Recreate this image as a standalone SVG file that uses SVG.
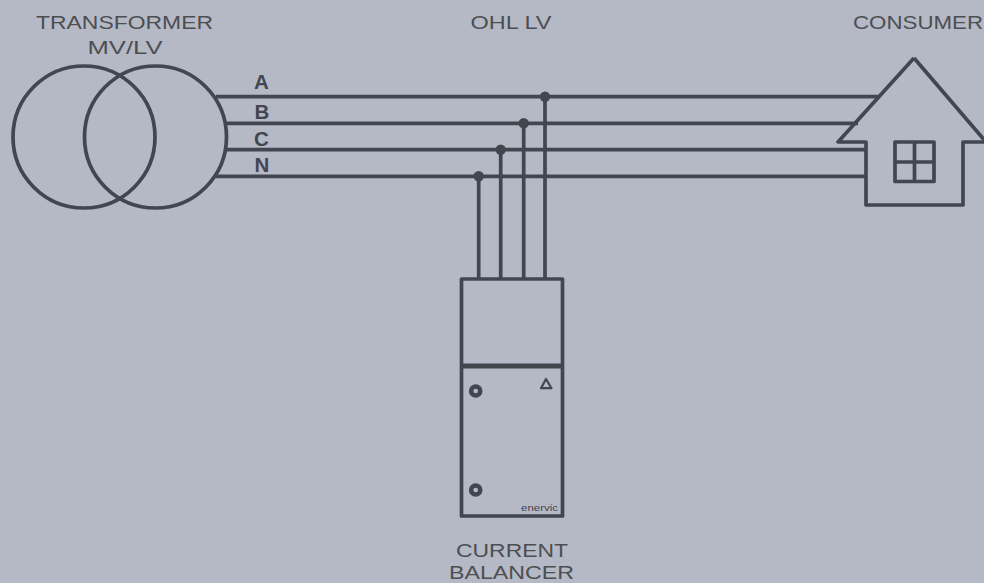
<svg xmlns="http://www.w3.org/2000/svg" width="984" height="583" viewBox="0 0 984 583">
<style>
.s{fill:none;stroke:#41464f;stroke-width:3.7;stroke-linejoin:round;stroke-linecap:butt}
.t{font-family:"Liberation Sans",Arial,sans-serif;font-size:18px;fill:#4c4e52;text-anchor:middle}
.l{font-family:"Liberation Sans",Arial,sans-serif;font-size:20.500px;font-weight:bold;fill:#41464f;text-anchor:middle}
.d{fill:#41464f}
</style>
<rect width="984" height="583" fill="#b5b9c5"/>
<g id="connectors">
<path class="s" d="M216 96.700H880M225 123.300H858M227 149.700H866M216 176.300H866"/>
<path class="s" d="M478.700 176V279M500.700 150V279M523.700 123V279M545 97V279"/>
<circle class="d" cx="545" cy="96.700" r="5.200"/>
<circle class="d" cx="523.700" cy="123.300" r="5.200"/>
<circle class="d" cx="500.700" cy="149.700" r="5.200"/>
<circle class="d" cx="478.700" cy="176.300" r="5.200"/>
</g>
<g id="transformer">
<circle class="s" cx="84" cy="137" r="71"/>
<circle class="s" cx="155.500" cy="137" r="71"/>
<text class="t" x="124.500" y="29" textLength="177" lengthAdjust="spacingAndGlyphs">TRANSFORMER</text>
<text class="t" x="125" y="53.500" textLength="75" lengthAdjust="spacingAndGlyphs">MV/LV</text>
</g>
<g id="phase-labels">
<text class="l" x="261.500" y="89">A</text>
<text class="l" x="262" y="119">B</text>
<text class="l" x="261.500" y="146">C</text>
<text class="l" x="262" y="172">N</text>
</g>
<g id="ohl">
<text class="t" x="511" y="29" textLength="81" lengthAdjust="spacingAndGlyphs">OHL LV</text>
</g>
<g id="consumer">
<path class="s" d="M914 58L838 142H866V205H963V142H986"/>
<path class="s" d="M914 58L986 142"/>
<rect class="s" x="895" y="142" width="39" height="39.500"/>
<path class="s" d="M914.500 142V181.500M895 162H934"/>
<text class="t" x="918" y="29" textLength="130" lengthAdjust="spacingAndGlyphs">CONSUMER</text>
</g>
<g id="balancer">
<rect class="s" x="461.500" y="279" width="101" height="237"/>
<path class="s" style="stroke-width:5" d="M461 366H563"/>
<circle class="s" style="stroke-width:4.500" cx="475.700" cy="391" r="4.600"/>
<circle class="s" style="stroke-width:4.500" cx="475.700" cy="490" r="4.600"/>
<path class="s" style="stroke-width:2.200" d="M546 379L541 388.200H551.500Z"/>
<text x="539.500" y="510.800" font-family="'Liberation Sans',Arial,sans-serif" font-size="9px" fill="#41464f" text-anchor="middle" textLength="37" lengthAdjust="spacingAndGlyphs">enervic</text>
<text class="t" x="512" y="557" textLength="112" lengthAdjust="spacingAndGlyphs">CURRENT</text>
<text class="t" x="511.500" y="579" textLength="125" lengthAdjust="spacingAndGlyphs">BALANCER</text>
</g>
</svg>
